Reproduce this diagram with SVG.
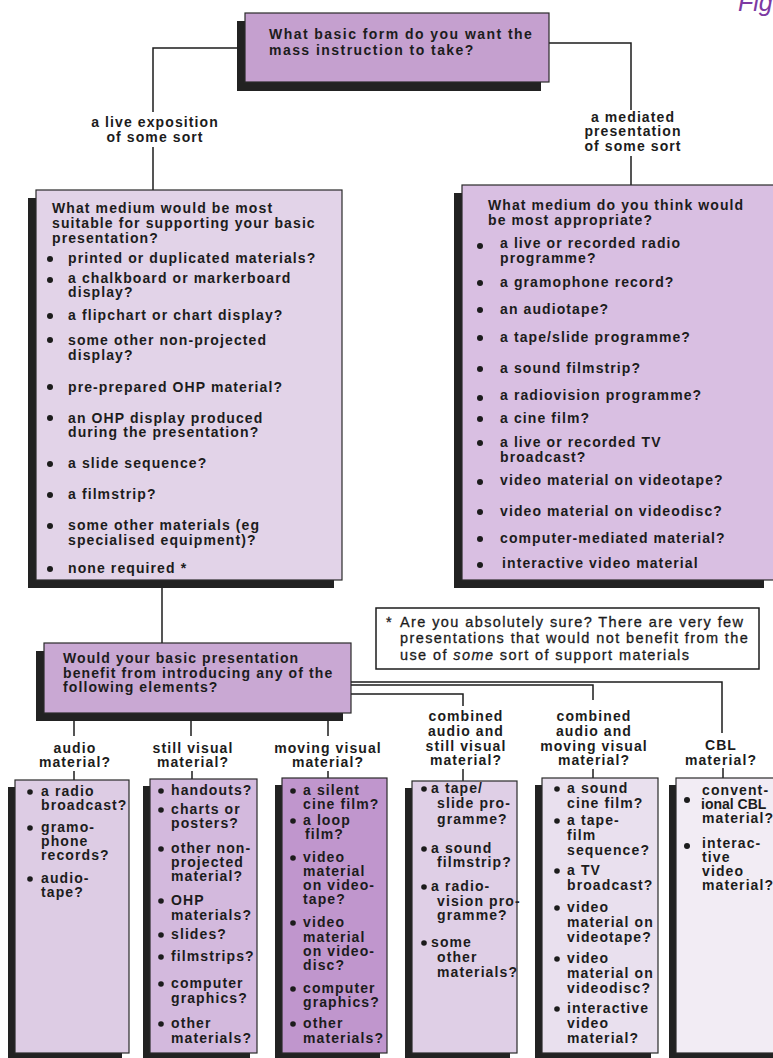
<svg xmlns="http://www.w3.org/2000/svg" width="773" height="1058" viewBox="0 0 773 1058">
<style>
.t{font-family:"Liberation Sans",Arial,Helvetica,sans-serif;font-weight:bold;font-size:14px;letter-spacing:1.1px;fill:#1c1c1c}
.c{text-anchor:middle}
.w{letter-spacing:1.45px}
.n{letter-spacing:0px}
.fn{font-weight:normal;font-size:14.5px;letter-spacing:1.4px;stroke:#1c1c1c;stroke-width:0.3}
.sh{fill:#222}
.bx{stroke:#2a2a2a;stroke-width:1.2}
.ln{fill:none;stroke:#1c1c1c;stroke-width:1.5}
.b{fill:#1c1c1c}
</style>
<rect width="773" height="1058" fill="#ffffff"/>
<text x="738" y="11" style="font-family:'Liberation Sans',Arial,sans-serif;font-style:italic;font-size:25px;fill:#7d3aa3">Fig</text>

<g id="connectors">
<polyline class="ln" points="245,48 153,48 153,112"/>
<line class="ln" x1="153" y1="147" x2="153" y2="190"/>
<polyline class="ln" points="549,43 631,43 631,110"/>
<line class="ln" x1="631" y1="156" x2="631" y2="185"/>
<line class="ln" x1="162" y1="588" x2="162" y2="643"/>
<line class="ln" x1="74" y1="721" x2="74" y2="736"/>
<line class="ln" x1="191" y1="721" x2="191" y2="736"/>
<line class="ln" x1="328" y1="721" x2="328" y2="736"/>
<polyline class="ln" points="351,682 722,682 722,733"/>
<polyline class="ln" points="351,685 593,685 593,700"/>
<polyline class="ln" points="351,694 463,694 463,706"/>
<line class="ln" x1="74" y1="771" x2="74" y2="781"/>
<line class="ln" x1="192" y1="771" x2="192" y2="779"/>
<line class="ln" x1="328" y1="771" x2="328" y2="778"/>
<line class="ln" x1="463" y1="769" x2="463" y2="781"/>
<line class="ln" x1="593" y1="769" x2="593" y2="778"/>
<line class="ln" x1="723" y1="768" x2="723" y2="778"/>
</g>

<g id="labels">
<text class="t c" x="155" y="127">a live exposition</text>
<text class="t c" x="155" y="142">of some sort</text>
<text class="t c" x="633" y="122">a mediated</text>
<text class="t c" x="633" y="136">presentation</text>
<text class="t c" x="633" y="151">of some sort</text>
<text class="t c" x="75" y="753">audio</text>
<text class="t c" x="75" y="767">material?</text>
<text class="t c" x="193" y="753">still visual</text>
<text class="t c" x="193" y="767">material?</text>
<text class="t c" x="328" y="753">moving visual</text>
<text class="t c" x="328" y="767">material?</text>
<text class="t c" x="466" y="721">combined</text>
<text class="t c" x="466" y="736">audio and</text>
<text class="t c" x="466" y="751">still visual</text>
<text class="t c" x="466" y="765">material?</text>
<text class="t c" x="594" y="721">combined</text>
<text class="t c" x="594" y="736">audio and</text>
<text class="t c" x="594" y="751">moving visual</text>
<text class="t c" x="594" y="765">material?</text>
<text class="t c" x="721" y="750">CBL</text>
<text class="t c" x="721" y="765">material?</text>
</g>

<g id="top">
<rect class="sh" x="237" y="21" width="304" height="70"/>
<rect class="bx" x="245" y="13" width="304" height="69" fill="#c5a0cf"/>
<text class="t w" x="269" y="39">What basic form do you want the</text>
<text class="t w" x="269" y="55">mass instruction to take?</text>
</g>

<g id="live">
<rect class="sh" x="28" y="198" width="306" height="390"/>
<rect class="bx" x="36" y="190" width="306" height="390" fill="#e2d3e8"/>
<text class="t" x="52" y="213">What medium would be most</text>
<text class="t" x="52" y="228">suitable for supporting your basic</text>
<text class="t" x="52" y="243">presentation?</text>
<circle class="b" cx="50" cy="259" r="3"/><text class="t" x="68" y="263">printed or duplicated materials?</text>
<circle class="b" cx="50" cy="280" r="3"/><text class="t" x="68" y="283">a chalkboard or markerboard</text><text class="t" x="68" y="297">display?</text>
<circle class="b" cx="50" cy="316" r="3"/><text class="t" x="68" y="320">a flipchart or chart display?</text>
<circle class="b" cx="50" cy="340" r="3"/><text class="t" x="68" y="345">some other non-projected</text><text class="t" x="68" y="360">display?</text>
<circle class="b" cx="50" cy="387" r="3"/><text class="t" x="68" y="392">pre-prepared OHP material?</text>
<circle class="b" cx="50" cy="418" r="3"/><text class="t" x="68" y="423">an OHP display produced</text><text class="t" x="68" y="437">during the presentation?</text>
<circle class="b" cx="50" cy="464" r="3"/><text class="t" x="68" y="468">a slide sequence?</text>
<circle class="b" cx="50" cy="495" r="3"/><text class="t" x="68" y="499">a filmstrip?</text>
<circle class="b" cx="50" cy="526" r="3"/><text class="t" x="68" y="530">some other materials (eg</text><text class="t" x="68" y="545">specialised equipment)?</text>
<circle class="b" cx="50" cy="569" r="3"/><text class="t" x="68" y="573">none required *</text>
</g>

<g id="mediated">
<rect class="sh" x="454" y="193" width="310" height="395"/>
<rect class="bx" x="462" y="185" width="312" height="395" fill="#d9bfe2"/>
<text class="t" x="488" y="210">What medium do you think would</text>
<text class="t" x="488" y="225">be most appropriate?</text>
<circle class="b" cx="480" cy="246" r="3"/><text class="t" x="500" y="248">a live or recorded radio</text><text class="t" x="500" y="263">programme?</text>
<circle class="b" cx="480" cy="283" r="3"/><text class="t" x="500" y="287">a gramophone record?</text>
<circle class="b" cx="480" cy="310" r="3"/><text class="t" x="500" y="314">an audiotape?</text>
<circle class="b" cx="480" cy="338" r="3"/><text class="t" x="500" y="342">a tape/slide programme?</text>
<circle class="b" cx="480" cy="369" r="3"/><text class="t" x="500" y="373">a sound filmstrip?</text>
<circle class="b" cx="480" cy="398" r="3"/><text class="t" x="500" y="400">a radiovision programme?</text>
<circle class="b" cx="480" cy="419" r="3"/><text class="t" x="500" y="423">a cine film?</text>
<circle class="b" cx="480" cy="443" r="3"/><text class="t" x="500" y="447">a live or recorded TV</text><text class="t" x="500" y="462">broadcast?</text>
<circle class="b" cx="480" cy="482" r="3"/><text class="t" x="500" y="485">video material on videotape?</text>
<circle class="b" cx="480" cy="512" r="3"/><text class="t" x="500" y="516">video material on videodisc?</text>
<circle class="b" cx="480" cy="539" r="3"/><text class="t" x="500" y="543">computer-mediated material?</text>
<circle class="b" cx="480" cy="565" r="3"/><text class="t" x="502" y="568">interactive video material</text>
</g>

<g id="footnote">
<rect x="376" y="608" width="383" height="61" fill="#ffffff" stroke="#1c1c1c" stroke-width="1.5"/>
<text class="t fn" x="386" y="627">*</text>
<text class="t fn" x="400" y="627">Are you absolutely sure? There are very few</text>
<text class="t fn" x="400" y="643">presentations that would not benefit from the</text>
<text class="t fn" x="400" y="660">use of <tspan font-style="italic">some</tspan> sort of support materials</text>
</g>

<g id="elements">
<rect class="sh" x="36" y="651" width="307" height="70"/>
<rect class="bx" x="44" y="643" width="307" height="70" fill="#c9a8d3"/>
<text class="t" x="63" y="663">Would your basic presentation</text>
<text class="t" x="63" y="678">benefit from introducing any of the</text>
<text class="t" x="63" y="692">following elements?</text>
</g>

<g id="audio">
<rect class="sh" x="8" y="787" width="114" height="280"/>
<rect class="bx" x="15" y="780" width="114" height="273" fill="#ddcce4"/>
<circle class="b" cx="30" cy="792" r="2.8"/><text class="t" x="41" y="796">a radio</text><text class="t" x="41" y="810">broadcast?</text>
<circle class="b" cx="30" cy="828" r="2.8"/><text class="t" x="41" y="832">gramo-</text><text class="t" x="41" y="846">phone</text><text class="t" x="41" y="860">records?</text>
<circle class="b" cx="30" cy="879" r="2.8"/><text class="t" x="41" y="883">audio-</text><text class="t" x="41" y="897">tape?</text>
</g>

<g id="still">
<rect class="sh" x="143" y="786" width="107" height="280"/>
<rect class="bx" x="150" y="779" width="107" height="274" fill="#d3b9dd"/>
<circle class="b" cx="161" cy="791" r="2.8"/><text class="t" x="171" y="795">handouts?</text>
<circle class="b" cx="161" cy="810" r="2.8"/><text class="t" x="171" y="814">charts or</text><text class="t" x="171" y="828">posters?</text>
<circle class="b" cx="161" cy="849" r="2.8"/><text class="t" x="171" y="853">other non-</text><text class="t" x="171" y="867">projected</text><text class="t" x="171" y="881">material?</text>
<circle class="b" cx="161" cy="901" r="2.8"/><text class="t" x="171" y="905">OHP</text><text class="t" x="171" y="920">materials?</text>
<circle class="b" cx="161" cy="935" r="2.8"/><text class="t" x="171" y="939">slides?</text>
<circle class="b" cx="161" cy="957" r="2.8"/><text class="t" x="171" y="961">filmstrips?</text>
<circle class="b" cx="161" cy="984" r="2.8"/><text class="t" x="171" y="988">computer</text><text class="t" x="171" y="1003">graphics?</text>
<circle class="b" cx="161" cy="1024" r="2.8"/><text class="t" x="171" y="1028">other</text><text class="t" x="171" y="1043">materials?</text>
</g>

<g id="moving">
<rect class="sh" x="275" y="785" width="105" height="280"/>
<rect class="bx" x="282" y="778" width="105" height="275" fill="#c096cd"/>
<circle class="b" cx="293" cy="791" r="2.8"/><text class="t" x="303" y="795">a silent</text><text class="t" x="303" y="809">cine film?</text>
<circle class="b" cx="293" cy="821" r="2.8"/><text class="t" x="303" y="825">a loop</text><text class="t" x="305" y="839">film?</text>
<circle class="b" cx="293" cy="858" r="2.8"/><text class="t" x="303" y="862">video</text><text class="t" x="303" y="876">material</text><text class="t" x="303" y="890">on video-</text><text class="t" x="303" y="904">tape?</text>
<circle class="b" cx="293" cy="923" r="2.8"/><text class="t" x="303" y="927">video</text><text class="t" x="303" y="942">material</text><text class="t" x="303" y="956">on video-</text><text class="t" x="303" y="970">disc?</text>
<circle class="b" cx="293" cy="989" r="2.8"/><text class="t" x="303" y="993">computer</text><text class="t" x="303" y="1007">graphics?</text>
<circle class="b" cx="293" cy="1024" r="2.8"/><text class="t" x="303" y="1028">other</text><text class="t" x="303" y="1043">materials?</text>
</g>

<g id="combined-still">
<rect class="sh" x="405" y="788" width="105" height="280"/>
<rect class="bx" x="412" y="781" width="105" height="272" fill="#dfcfe6"/>
<circle class="b" cx="424" cy="789" r="2.8"/><text class="t" x="431" y="793">a tape/</text><text class="t" x="437" y="808">slide pro-</text><text class="t" x="437" y="824">gramme?</text>
<circle class="b" cx="424" cy="849" r="2.8"/><text class="t" x="431" y="853">a sound</text><text class="t" x="437" y="867">filmstrip?</text>
<circle class="b" cx="424" cy="887" r="2.8"/><text class="t" x="431" y="891">a radio-</text><text class="t" x="437" y="906">vision pro-</text><text class="t" x="437" y="920">gramme?</text>
<circle class="b" cx="424" cy="943" r="2.8"/><text class="t" x="431" y="947">some</text><text class="t" x="437" y="962">other</text><text class="t" x="437" y="977">materials?</text>
</g>

<g id="combined-moving">
<rect class="sh" x="535" y="785" width="116" height="280"/>
<rect class="bx" x="542" y="778" width="116" height="275" fill="#e9e0ee"/>
<circle class="b" cx="557" cy="789" r="2.8"/><text class="t" x="567" y="793">a sound</text><text class="t" x="567" y="808">cine film?</text>
<circle class="b" cx="557" cy="821" r="2.8"/><text class="t" x="567" y="825">a tape-</text><text class="t" x="567" y="840">film</text><text class="t" x="567" y="855">sequence?</text>
<circle class="b" cx="557" cy="871" r="2.8"/><text class="t" x="567" y="875">a TV</text><text class="t" x="567" y="890">broadcast?</text>
<circle class="b" cx="557" cy="908" r="2.8"/><text class="t" x="567" y="912">video</text><text class="t" x="567" y="927">material on</text><text class="t" x="567" y="942">videotape?</text>
<circle class="b" cx="557" cy="959" r="2.8"/><text class="t" x="567" y="963">video</text><text class="t" x="567" y="978">material on</text><text class="t" x="567" y="993">videodisc?</text>
<circle class="b" cx="557" cy="1009" r="2.8"/><text class="t" x="567" y="1013">interactive</text><text class="t" x="567" y="1028">video</text><text class="t" x="567" y="1043">material?</text>
</g>

<g id="cbl">
<rect class="sh" x="669" y="785" width="110" height="280"/>
<rect class="bx" x="676" y="778" width="110" height="275" fill="#f2ecf4"/>
<circle class="b" cx="687" cy="800" r="3"/><text class="t" x="702" y="795">convent-</text><text class="t n" x="701" y="809">ional CBL</text><text class="t" x="702" y="823">material?</text>
<circle class="b" cx="687" cy="846" r="3"/><text class="t" x="702" y="848">interac-</text><text class="t" x="702" y="862">tive</text><text class="t" x="702" y="876">video</text><text class="t" x="702" y="890">material?</text>
</g>
</svg>
